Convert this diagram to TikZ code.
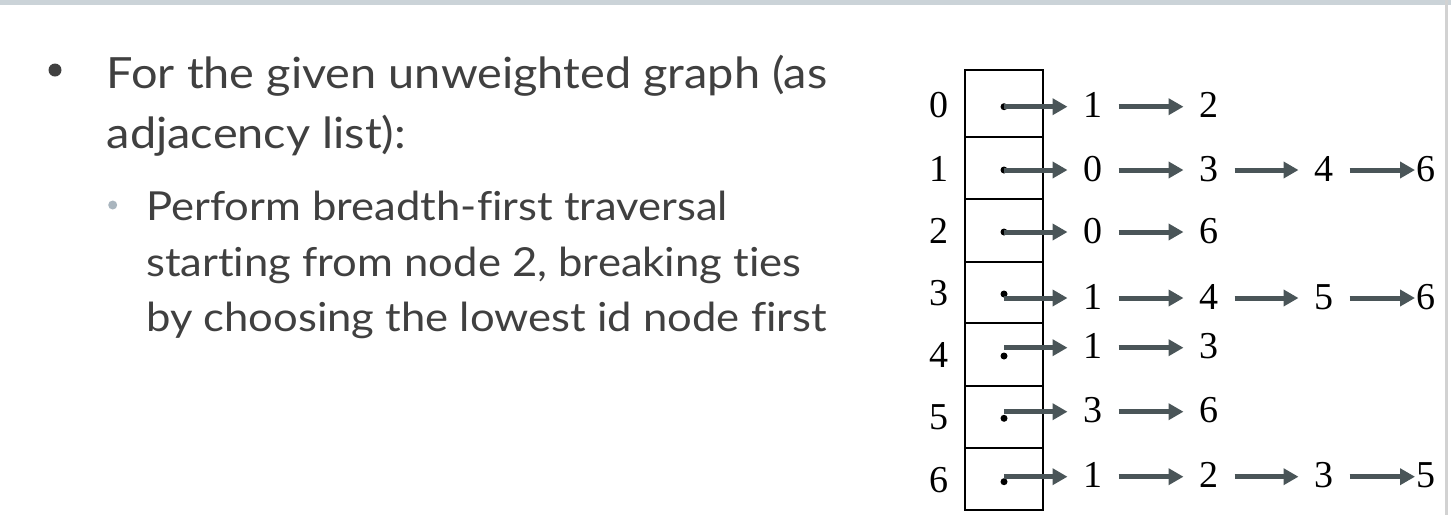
\documentclass[tikz,border=0pt]{standalone}
\usepackage{fontspec}
\setmainfont{Liberation Serif}
\newfontfamily\slidefont[FakeStretch=1.09, Ligatures=NoCommon]{Lato}
\usetikzlibrary{arrows.meta}
\definecolor{slidetext}{HTML}{404040}
\definecolor{subdot}{HTML}{A9B5BE}
\definecolor{arrowgray}{HTML}{4A5558}
\definecolor{topbar}{HTML}{CBD3D8}
\begin{document}
\begin{tikzpicture}[x=1pt,y=-1pt,
    lnk/.style={arrowgray, line width=5pt, -{Triangle[length=15pt,width=16pt]}},
    num/.style={font=\fontsize{38}{38}\selectfont, inner sep=0pt, text height=22pt, text depth=0pt},
    dot/.style={circle, fill=black, inner sep=0pt, minimum size=7pt},
    cell/.style={draw, line width=2pt},
    txt/.style={slidetext, inner sep=0pt, anchor=base west},
    big/.style={txt, font=\slidefont\fontsize{43}{43}\selectfont},
    small/.style={txt, font=\slidefont\fontsize{40}{40}\selectfont}]
    \useasboundingbox (0,0) rectangle (1451,515);

    % Slide frame
    \fill[topbar] (0,0) rectangle (1451,4.5);
    \fill[gray!35] (1445,0) rectangle (1448,515);

    % Bullet text
    \node[circle, fill=slidetext, inner sep=0pt, minimum size=13pt] (b1) at (55,70) {};
    \node[big] (t1) at (106.7,88.3) {For the given unweighted graph (as};
    \node[big] (t2) at (106.7,148) {adjacency list):};
    \node[circle, fill=subdot, inner sep=0pt, minimum size=9pt] (b2) at (112.7,205) {};
    \node[small] (s1) at (146,220.7) {Perform breadth-first traversal};
    \node[small] (s2) at (146,276.7) {starting from node 2, breaking ties};
    \node[small] (s3) at (146,331.7) {by choosing the lowest id node first};

    % Array of head cells
    \foreach \top/\bot in {70/137.3, 137.3/199, 199/261.7, 261.7/323.3, 323.3/386, 386/448.3, 448.3/510}
        \draw[cell] (965,\top) rectangle (1043,\bot);

    % Adjacency lists
    \foreach \r/\dy/\ay/\lst in {0/106.7/106.7/{1,2}, 1/170/170/{0,3,4,6}, 2/232/232/{0,6},
            3/294/298/{1,4,5,6}, 4/356/347.7/{1,3}, 5/418.3/411.7/{3,6}, 6/481.7/476.7/{1,2,3,5}} {
        \node[num] (l\r) at (939,\dy) {\r};
        \node[dot] (d\r) at (1004,\dy) {};
        \foreach \v [count=\k] in \lst {
            \pgfmathsetmacro\xx{{1093,1209,1324,1426}[\k-1]}
            \pgfmathsetmacro\ox{\k==4 ? 1.5 : 16}
            \node[num, outer xsep=\ox pt] (n\r\k) at (\xx,\ay) {\v};
            \ifnum\k>1
                \pgfmathtruncatemacro\kp{\k-1}
                \draw[lnk] (n\r\kp) -- (n\r\k);
            \fi
        }
        \draw[lnk] (d\r.center |- n\r1) -- (n\r1);
    }

\end{tikzpicture}
\end{document}
